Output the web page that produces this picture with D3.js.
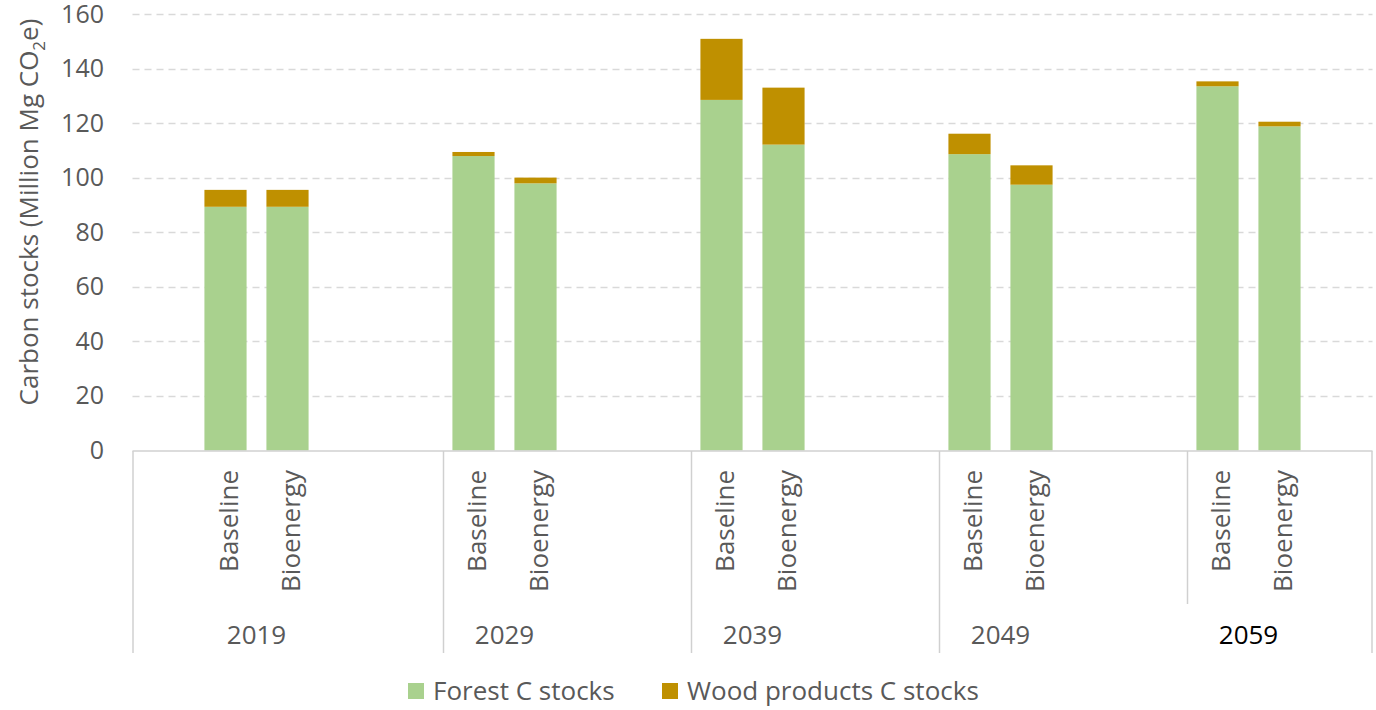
<!DOCTYPE html>
<html>
<head>
<meta charset="utf-8">
<script src="https://cdn.jsdelivr.net/npm/d3@7"></script>
<style>
  html, body { margin: 0; padding: 0; background: #fff; }
  svg { display: block; }
  text { font-family: "Open Sans", sans-serif; }
</style>
</head>
<body>
<svg id="chart" width="1376" height="710"></svg>
<script>
// ---- Data ----
const years = ["2019", "2029", "2039", "2049", "2059"];
const scenarios = ["Baseline", "Bioenergy"];
// order: per year Baseline, Bioenergy
const forestStocks = [89.4, 89.4, 108.0, 98.0, 128.6, 112.2, 108.7, 97.5, 133.6, 118.9];
const woodStocks   = [6.2, 6.2, 1.5, 2.1, 22.4, 20.9, 7.5, 7.1, 1.8, 1.7];
const yTicks = [0, 20, 40, 60, 80, 100, 120, 140, 160];
const seriesNames = ["Forest C stocks", "Wood products C stocks"];
const colors = ["#a9d18e", "#bf9000"];

// ---- Build rows ----
const rows = [];
years.forEach((yr, i) => {
  scenarios.forEach((sc, j) => {
    const k = i * 2 + j;
    rows.push({ key: yr + "|" + sc, year: yr, scenario: sc, forest: forestStocks[k], wood: woodStocks[k] });
  });
});

// slot domain: leading blank, then per year [Baseline, Bioenergy, blank, blank], last year only one trailing blank
const slots = ["pad0"];
years.forEach((yr, i) => {
  slots.push(yr + "|Baseline", yr + "|Bioenergy");
  slots.push("gapA" + i);
  if (i < years.length - 1) slots.push("gapB" + i);
});

const svg = d3.select("#chart");
const x = d3.scaleBand().domain(slots).range([132.5, 1372.5]).padding(0);
const y = d3.scaleLinear().domain([0, 160]).range([450.5, 14.3]);
const barW = x.bandwidth() * 0.68;
const textColor = "#595959";
const lineColor = "#d0d0d0";

// gridlines
svg.append("g").selectAll("line").data(yTicks.filter(d => d > 0)).join("line")
  .attr("x1", 132.5).attr("x2", 1372.5)
  .attr("y1", d => Math.round(y(d)) + 0.5).attr("y2", d => Math.round(y(d)) + 0.5)
  .attr("stroke", "#d9d9d9").attr("stroke-width", 1.5).attr("stroke-dasharray", "7,5");

// y axis labels
svg.append("g").selectAll("text").data(yTicks).join("text")
  .attr("x", 104).attr("y", d => y(d)).attr("dy", "0.33em")
  .attr("text-anchor", "end").attr("fill", textColor)
  .style("font-size", "25px").text(d => d);

// y title
const yt = svg.append("text")
  .attr("transform", "translate(38," + 212 + ") rotate(-90)")
  .attr("text-anchor", "middle").attr("fill", textColor)
  .style("font-size", "26px");
yt.append("tspan").text("Carbon stocks (Million Mg CO");
yt.append("tspan").attr("dy", 7).style("font-size", "17px").text("2");
yt.append("tspan").attr("dy", -7).text("e)");

// stacked bars
const stack = d3.stack().keys(["forest", "wood"])(rows);
svg.append("g").selectAll("g").data(stack).join("g")
  .attr("fill", (d, i) => colors[i])
  .selectAll("rect").data(d => d).join("rect")
  .attr("x", d => x(d.data.key) + (x.bandwidth() - barW) / 2)
  .attr("width", barW)
  .attr("y", d => y(d[1]))
  .attr("height", d => y(d[0]) - y(d[1]));

// category axis lines
const axisG = svg.append("g").attr("stroke", lineColor).attr("stroke-width", 1.5);
axisG.append("line").attr("x1", 132.5).attr("x2", 1372.5).attr("y1", 451).attr("y2", 451);
axisG.append("line").attr("x1", 133).attr("x2", 133).attr("y1", 451).attr("y2", 653);
axisG.append("line").attr("x1", 1372).attr("x2", 1372).attr("y1", 451).attr("y2", 653);
years.slice(1).forEach((yr, i) => {
  const xx = Math.round(x(yr + "|Baseline")) + 0.5;
  axisG.append("line").attr("x1", xx).attr("x2", xx).attr("y1", 451)
    .attr("y2", yr === "2059" ? 604 : 653);
});

// scenario labels (rotated)
svg.append("g").selectAll("text").data(rows).join("text")
  .attr("transform", d => "translate(" + (x(d.key) + x.bandwidth() / 2 + 3) + ",470) rotate(-90)")
  .attr("text-anchor", "end").attr("dy", "0.35em")
  .attr("fill", textColor).style("font-size", "26px")
  .text(d => d.scenario);

// year labels
svg.append("g").selectAll("text").data(years).join("text")
  .attr("x", yr => (x(yr + "|Baseline") + x(yr + "|Bioenergy") + x.bandwidth()) / 2)
  .attr("y", 635).attr("dy", "0.35em").attr("text-anchor", "middle")
  .attr("fill", yr => yr === "2059" ? "#000" : textColor)
  .style("font-size", "26px").text(yr => yr);

// legend
const legendX = [408, 662];
const lg = svg.append("g").selectAll("g").data(seriesNames).join("g")
  .attr("transform", (d, i) => "translate(" + legendX[i] + ",691)");
lg.append("rect").attr("x", 0).attr("y", -8).attr("width", 16).attr("height", 16)
  .attr("fill", (d, i) => colors[i]);
lg.append("text").attr("x", 25).attr("dy", "0.35em").attr("fill", textColor)
  .style("font-size", "26px").text(d => d);
</script>
</body>
</html>
